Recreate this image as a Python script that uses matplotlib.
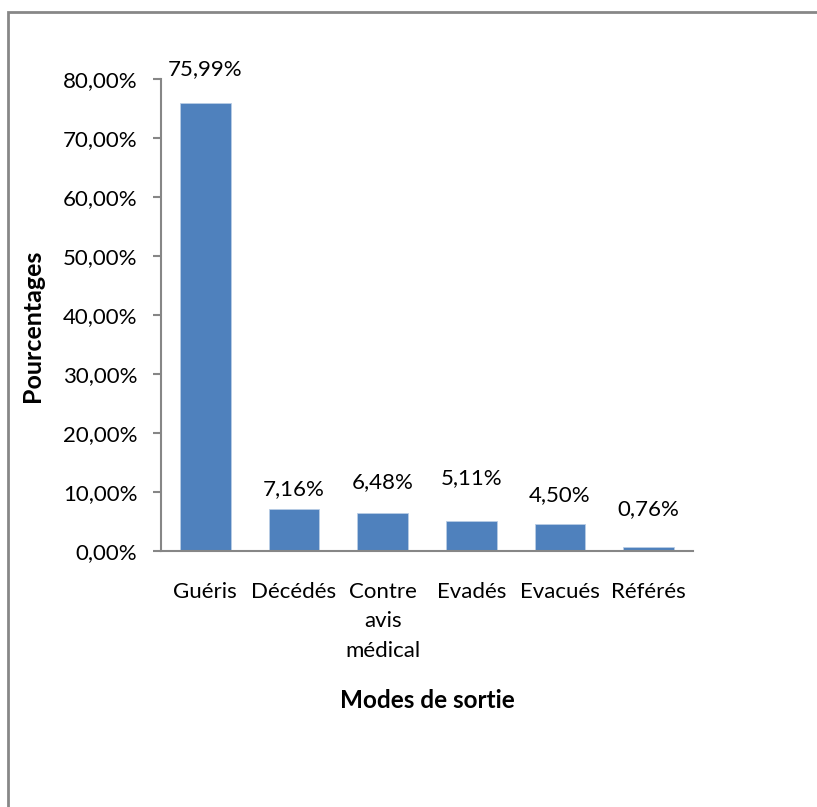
import matplotlib
matplotlib.use("Agg")
import matplotlib.pyplot as plt
from matplotlib.patches import Rectangle
from matplotlib.ticker import FuncFormatter, MultipleLocator

categories = ["Guéris", "Décédés", "Contre\navis\nmédical", "Evadés", "Evacués", "Référés"]
values = [75.99, 7.16, 6.48, 5.11, 4.50, 0.76]
value_labels = ["75,99%", "7,16%", "6,48%", "5,11%", "4,50%", "0,76%"]
# label offsets above bar top (points) as placed in the original
label_offsets = [24, 14, 22, 31, 21, 27]

plt.rcParams['font.family'] = ['Lato', 'DejaVu Sans']
FS = 16

W, H = 817, 807
fig = plt.figure(figsize=(W / 100, H / 100), dpi=100)
ax = fig.add_axes([161 / W, 1 - 551 / H, (693 - 161) / W, (551 - 79) / H])

x = range(len(categories))
ax.bar(x, values, width=0.57, color="#4F81BD", edgecolor="#B9CDE5", linewidth=0.6, zorder=2)
ax.set_xlim(-0.5, len(categories) - 0.5)
ax.set_ylim(0, 80)

for i, (v, lab, off) in enumerate(zip(values, value_labels, label_offsets)):
    ax.annotate(lab, (i, v), xytext=(0, off), textcoords="offset points",
                ha="center", va="center", fontsize=FS, color="black")

ax.yaxis.set_major_locator(MultipleLocator(10))
ax.yaxis.set_major_formatter(FuncFormatter(lambda v, p: f"{v:.2f}".replace(".", ",") + "%"))
ax.set_xticks(list(x))
ax.set_xticklabels(categories, fontsize=FS, linespacing=1.62, va="top")
ax.tick_params(axis="x", length=0, pad=22)
ax.tick_params(axis="y", length=6, width=1.5, color="#868686", labelsize=FS, pad=11)

for s in ["top", "right"]:
    ax.spines[s].set_visible(False)
for s in ["left", "bottom"]:
    ax.spines[s].set_color("#868686")
    ax.spines[s].set_linewidth(1.5)

ax.set_ylabel("Pourcentages", fontsize=18, fontweight="bold")
ax.yaxis.set_label_coords((33 - 161) / (693 - 161), (551 - 326) / (551 - 79))
ax.yaxis.label.set_va("center")
ax.set_xlabel("Modes de sortie", fontsize=17.5, fontweight="bold")
ax.xaxis.set_label_coords(0.5, (551 - 700) / (551 - 79))
ax.xaxis.label.set_va("center")

# outer chart border (extends past right and bottom edges)
fig.patches.append(Rectangle((8 / W, -0.05), 1.1, 1 - 12 / H + 0.05,
                             transform=fig.transFigure, fill=False,
                             edgecolor="#878787", linewidth=2, clip_on=False))

fig.savefig("out.png", dpi=100)
